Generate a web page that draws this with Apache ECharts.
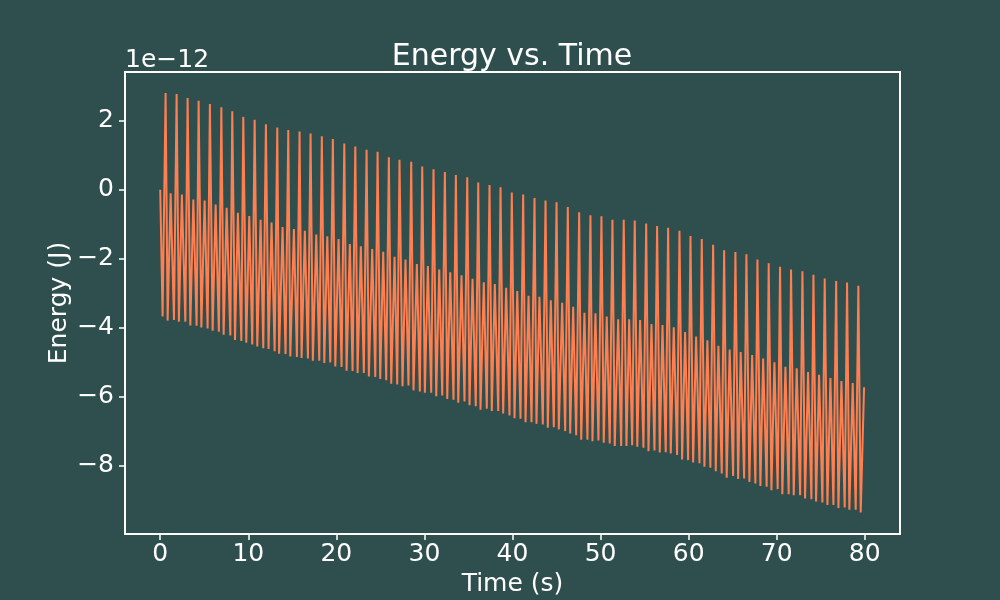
<!DOCTYPE html>
<html>
<head>
<meta charset="utf-8">
<script src="https://cdn.jsdelivr.net/npm/echarts@6/dist/echarts.min.js"></script>
<style>
html,body{margin:0;padding:0;background:#2F4F4F;}
#chart{width:1000px;height:600px;}
</style>
</head>
<body>
<div id="chart"></div>
<script>
// Energy extrema (units of 1e-12 J), times in seconds
var smallT = [0,1.18,2.46,3.76,5.04,6.29,7.54,8.82,10.11,11.40,12.64,13.89,15.18,16.42,17.72,18.97,20.25,21.53,22.78,24.07,25.32,26.61,27.85,29.14,30.39,31.68,32.93,34.21,35.46,36.74,37.99,39.28,40.54,41.82,43.06,44.35,45.64,46.89,48.17,49.42,50.70,52.00,53.25,54.49,55.78,57.03,58.31,59.60,60.85,62.13,63.38,64.66,65.91,67.21,68.46,69.74,70.99,72.27,73.56,74.81,76.10,77.35,78.63];
var smallE = [0,-0.10,-0.14,-0.28,-0.31,-0.43,-0.52,-0.67,-0.76,-0.87,-0.95,-1.08,-1.14,-1.19,-1.30,-1.35,-1.43,-1.57,-1.64,-1.72,-1.80,-1.94,-2.02,-2.15,-2.21,-2.31,-2.39,-2.48,-2.58,-2.68,-2.73,-2.84,-2.93,-3.07,-3.10,-3.20,-3.27,-3.39,-3.56,-3.58,-3.67,-3.75,-3.75,-3.77,-3.89,-3.92,-3.98,-4.12,-4.25,-4.36,-4.52,-4.63,-4.70,-4.79,-4.89,-5.00,-5.13,-5.17,-5.28,-5.36,-5.45,-5.54,-5.60];
var minAT = [0.27,1.56,2.85,4.13,5.38,6.66,7.96,9.21,10.45,11.70,12.99,14.23,15.52,16.77,18.06,19.31,20.59,21.84,23.12,24.42,25.66,26.91,28.19,29.48,30.77,32.02,33.30,34.55,35.83,37.08,38.38,39.66,40.91,42.16,43.44,44.69,45.98,47.23,48.51,49.76,51.04,52.34,53.59,54.87,56.12,57.40,58.69,59.94,61.23,62.47,63.76,65.05,66.30,67.58,68.86,70.11,71.36,72.66,73.94,75.19,76.44,77.72,78.97];
var minAE = [-3.67,-3.77,-3.82,-3.94,-4.02,-4.11,-4.22,-4.38,-4.48,-4.59,-4.68,-4.76,-4.84,-4.89,-4.95,-5.00,-5.13,-5.25,-5.31,-5.42,-5.52,-5.64,-5.67,-5.84,-5.88,-5.96,-6.08,-6.13,-6.27,-6.34,-6.41,-6.54,-6.63,-6.73,-6.80,-6.88,-6.99,-7.11,-7.24,-7.26,-7.35,-7.42,-7.40,-7.47,-7.55,-7.60,-7.68,-7.83,-7.92,-8.05,-8.22,-8.29,-8.36,-8.51,-8.60,-8.67,-8.82,-8.85,-8.96,-9.06,-9.13,-9.20,-9.27];
var tallT = [0.61,1.86,3.11,4.36,5.64,6.94,8.18,9.43,10.72,12.00,13.29,14.54,15.82,17.07,18.35,19.60,20.90,22.15,23.43,24.68,25.96,27.17,28.50,29.75,31.03,32.32,33.57,34.86,36.11,37.39,38.64,39.92,41.21,42.50,43.75,45.00,46.28,47.57,48.85,50.10,51.35,52.63,53.88,55.18,56.42,57.67,58.96,60.21,61.49,62.78,64.03,65.31,66.56,67.81,69.09,70.38,71.63,72.92,74.17,75.45,76.75,77.99,79.27];
var tallE = [2.80,2.77,2.66,2.58,2.48,2.39,2.27,2.11,2.03,1.90,1.80,1.73,1.69,1.63,1.55,1.47,1.34,1.25,1.16,1.10,0.94,0.87,0.81,0.67,0.59,0.51,0.43,0.36,0.21,0.14,0.07,-0.08,-0.14,-0.24,-0.31,-0.36,-0.50,-0.65,-0.74,-0.77,-0.87,-0.87,-0.89,-0.98,-1.05,-1.10,-1.19,-1.34,-1.43,-1.59,-1.75,-1.80,-1.87,-2.02,-2.13,-2.23,-2.31,-2.36,-2.46,-2.57,-2.64,-2.69,-2.78];
var minBT = [0.84,2.12,3.42,4.67,5.95,7.20,8.49,9.77,11.02,12.30,13.50,14.77,16.05,17.33,18.63,19.88,21.16,22.41,23.69,24.98,26.23,27.51,28.76,30.05,31.34,32.59,33.84,35.12,36.37,37.65,38.94,40.23,41.48,42.72,44.01,45.26,46.55,47.80,49.08,50.36,51.61,52.94,54.17,55.44,56.72,57.97,59.26,60.51,61.79,63.08,64.32,65.62,66.90,68.15,69.40,70.64,71.93,73.22,74.47,75.76,77.01,78.25,79.54];
var minBE = [-3.79,-3.82,-3.93,-3.99,-4.08,-4.20,-4.35,-4.43,-4.54,-4.61,-4.75,-4.83,-4.87,-4.95,-5.02,-5.12,-5.24,-5.31,-5.41,-5.48,-5.62,-5.69,-5.81,-5.88,-5.98,-6.06,-6.17,-6.24,-6.37,-6.41,-6.48,-6.62,-6.73,-6.78,-6.89,-6.94,-7.06,-7.24,-7.28,-7.33,-7.42,-7.42,-7.44,-7.57,-7.61,-7.64,-7.81,-7.90,-8.02,-8.15,-8.34,-8.38,-8.46,-8.58,-8.70,-8.82,-8.85,-8.94,-9.03,-9.13,-9.22,-9.27,-9.35];
var endT = 79.92, endE = -5.72;

var xTicks = [0,10,20,30,40,50,60,70,80];
var yTicks = [-8,-6,-4,-2,0,2];

var data = [];
for (var i = 0; i < tallT.length; i++) {
  data.push([smallT[i], smallE[i]]);
  data.push([minAT[i], minAE[i]]);
  data.push([tallT[i], tallE[i]]);
  data.push([minBT[i], minBE[i]]);
}
data.push([endT, endE]);

var FONT = 'DejaVu Sans';
var FS = 25;
var fmt = function (v) { return String(v).replace('-', '\u2212'); };

var chart = echarts.init(document.getElementById('chart'), null, {renderer: 'canvas'});
chart.setOption({
  backgroundColor: '#2F4F4F',
  animation: false,
  title: {
    text: 'Energy vs. Time',
    left: 507, top: 37, textAlign: 'center',
    textStyle: {color: '#fff', fontFamily: FONT, fontSize: 30, fontWeight: 'normal'}
  },
  graphic: [{
    type: 'text', left: 125, top: 48,
    style: {text: '1e\u221212', fill: '#fff', font: FS + 'px "DejaVu Sans"'}
  }],
  grid: {left: 125, right: 100, top: 72, bottom: 66, outerBoundsMode: 'none', containLabel: false, show: true, borderColor: '#ffffff', borderWidth: 2, backgroundColor: 'transparent'},
  xAxis: {
    type: 'value', min: -4, max: 84,
    name: 'Time (s)', nameLocation: 'middle', nameGap: 38, nameMoveOverlap: false,
    nameTextStyle: {color: '#fff', fontFamily: FONT, fontSize: FS},
    axisLine: {show: false, onZero: false},
    splitLine: {show: false},
    axisTick: {show: true, inside: false, length: 6, lineStyle: {color: '#fff', width: 1.5}, customValues: xTicks},
    axisLabel: {color: '#fff', fontFamily: FONT, fontSize: FS, margin: 8, customValues: xTicks, formatter: fmt}
  },
  yAxis: {
    type: 'value', min: -9.97, max: 3.41,
    name: 'Energy (J)', nameLocation: 'middle', nameGap: 53, nameRotate: 90, nameMoveOverlap: false,
    nameTextStyle: {color: '#fff', fontFamily: FONT, fontSize: FS},
    axisLine: {show: false, onZero: false},
    splitLine: {show: false},
    axisTick: {show: true, inside: false, length: 6, lineStyle: {color: '#fff', width: 1.5}, customValues: yTicks},
    axisLabel: {color: '#fff', fontFamily: FONT, fontSize: FS, margin: 11, customValues: yTicks, formatter: fmt}
  },
  series: [{
    type: 'line', data: data, showSymbol: false, symbol: 'none',
    lineStyle: {color: '#FF7F50', width: 2},
    clip: true
  }]
});
</script>
</body>
</html>
